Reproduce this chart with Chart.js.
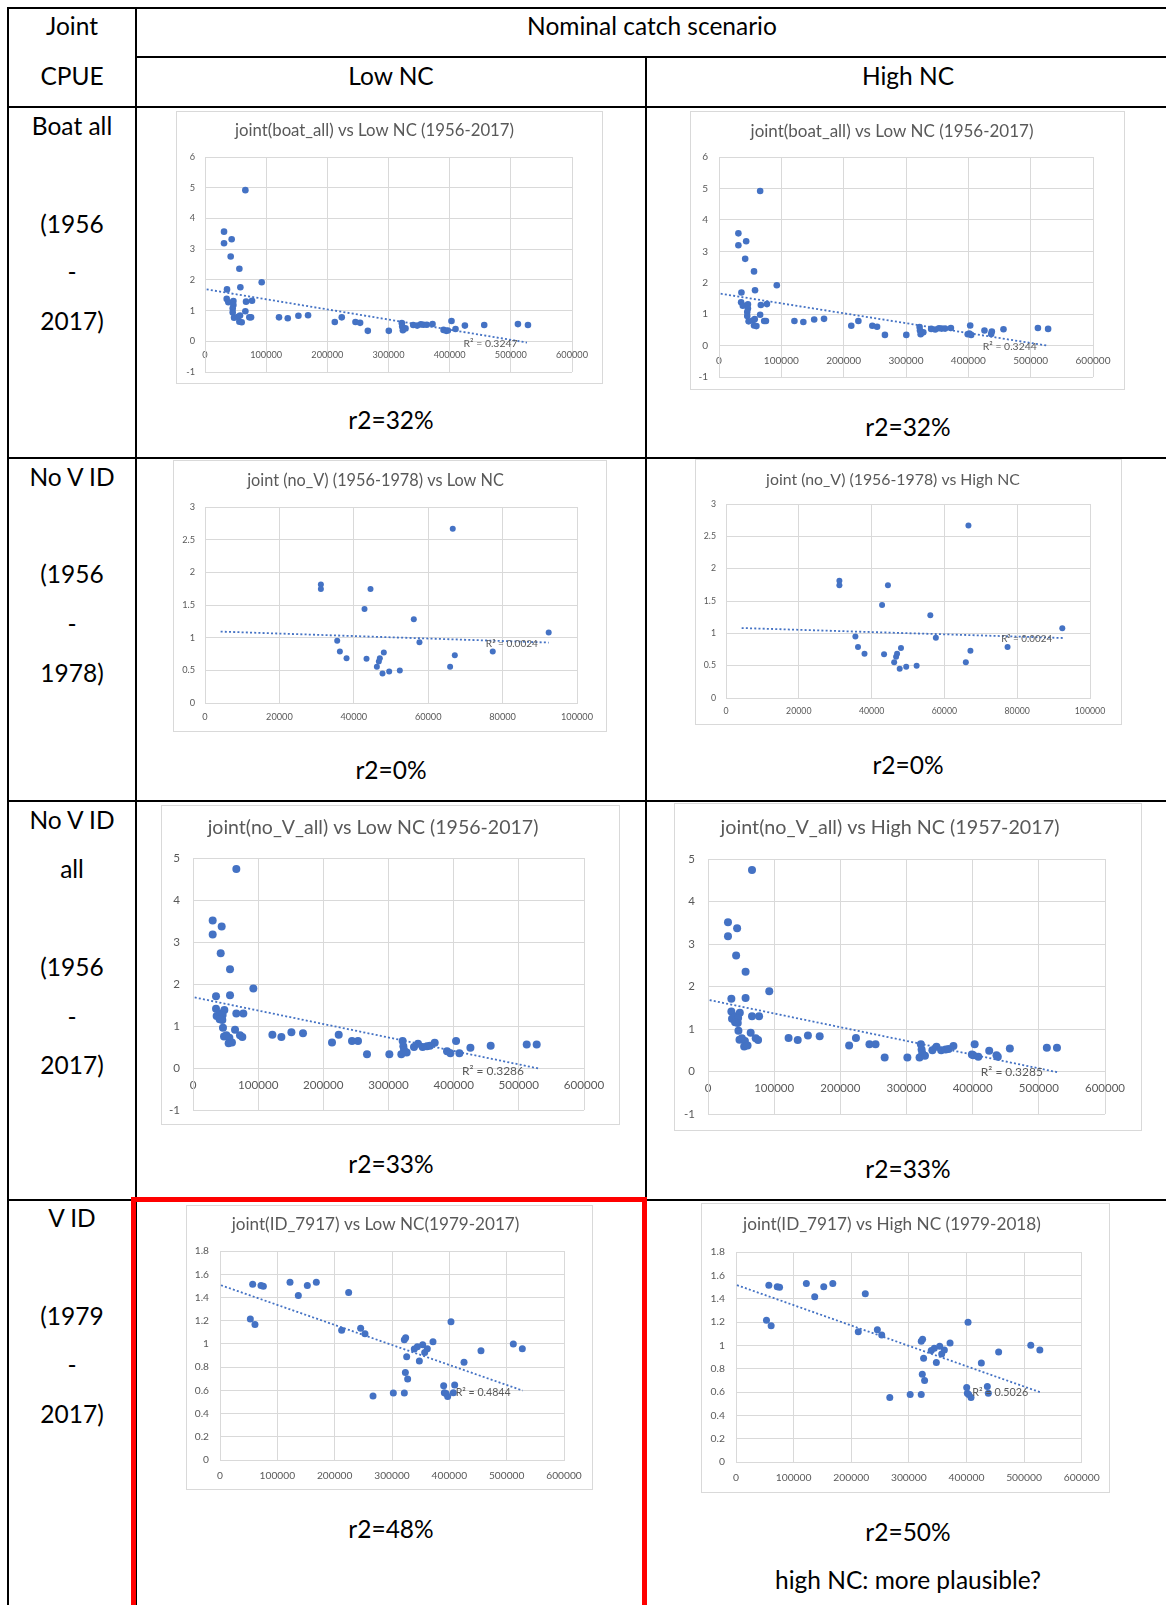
<!DOCTYPE html>
<html>
<head>
<meta charset="utf-8">
<script src="https://cdn.jsdelivr.net/npm/chart.js@4.4.0/dist/chart.umd.min.js"></script>
<style>
  body { margin: 0; width: 1166px; height: 1605px; overflow: hidden; background: #fff; position: relative; font-family: Lato, "Open Sans", sans-serif; }
  .ln { position: absolute; background: #000; }
  .t { position: absolute; transform: translate(-50%, -50%); white-space: nowrap; font-size: 24.5px; line-height: 1; color: #000; }
  .box { position: absolute; border: 1px solid #d9d9d9; box-sizing: border-box; background: #fff; }
  .box canvas { display: block; }
  #red { position: absolute; left: 131px; top: 1197px; width: 516px; height: 440px; border: 5px solid #ff0000; box-sizing: border-box; }
</style>
</head>
<body>
<div id="red"></div>
<script>
// ---- data ----
var boatLowX = [66000,31100,31100,43600,42000,56200,57800,36000,92700,35500,38200,46400,46400,45300,45300,47500,67100,76900,66000,54000,57300,56200,60000,72500,75300,121000,135300,152700,168500,212200,223600,246000,253600,266200,300500,321800,322400,323500,327800,340400,346900,352900,357300,362700,372000,390000,394400,397000,403000,409600,424900,456500,511600,528000];
var boatLowY = [4.92,3.57,3.19,3.32,2.76,2.36,1.76,1.69,1.92,1.38,1.27,1.31,1.18,1.07,0.94,0.77,1.29,1.32,0.98,0.80,0.84,0.64,0.62,0.78,0.78,0.78,0.75,0.83,0.85,0.63,0.78,0.63,0.60,0.34,0.34,0.59,0.48,0.36,0.42,0.53,0.51,0.55,0.54,0.54,0.56,0.37,0.34,0.35,0.66,0.40,0.51,0.53,0.56,0.53];
var boatHighX = [66000,31100,31100,43600,42000,56200,57800,36000,92700,35500,38200,46400,46400,45300,45300,47500,67100,76900,66000,54000,57300,56200,60000,72500,75300,121000,135300,152700,168500,212200,223600,246000,253600,266200,300500,321800,322400,323500,327800,340400,346900,352900,357300,362700,372000,399000,401500,404500,403000,436600,437700,425900,456400,511600,528000];
var boatHighY = [4.92,3.57,3.19,3.32,2.76,2.36,1.76,1.69,1.92,1.38,1.27,1.31,1.18,1.07,0.94,0.77,1.29,1.32,0.98,0.80,0.84,0.64,0.62,0.78,0.78,0.78,0.75,0.83,0.85,0.63,0.78,0.63,0.60,0.34,0.34,0.59,0.48,0.36,0.42,0.53,0.51,0.55,0.54,0.54,0.56,0.36,0.38,0.34,0.64,0.37,0.45,0.48,0.52,0.56,0.53];

var noVX = [31150,31150,35540,36260,38050,42880,43420,44490,46200,46730,47000,48070,47720,49510,52370,56130,57650,66600,65890,67150,77350,92390];
var noVY = [1.815,1.744,0.951,0.788,0.686,1.439,0.676,1.744,0.554,0.636,0.686,0.773,0.452,0.483,0.498,1.281,0.930,2.669,0.554,0.732,0.788,1.078];

var noVallLowX = [66500,30200,30200,44000,42500,56800,56800,35300,92600,35300,36300,41900,48100,45500,45000,40900,46000,47600,51200,64500,66500,77200,55800,54700,59800,72100,75700,121800,135600,151000,168800,213300,223600,244000,253200,267000,301300,321700,322800,323800,319700,327900,339100,345300,352400,359100,363700,370900,389800,395000,403700,408800,425700,456800,512100,527400];
var noVallLowY = [4.74,3.51,3.18,3.37,2.73,2.35,1.73,1.71,1.89,1.41,1.24,1.30,1.38,1.26,1.14,1.16,0.96,0.75,0.78,0.91,1.30,1.30,0.72,0.59,0.61,0.78,0.74,0.79,0.74,0.85,0.83,0.61,0.79,0.64,0.64,0.33,0.33,0.64,0.52,0.43,0.33,0.37,0.50,0.58,0.50,0.52,0.53,0.60,0.40,0.35,0.64,0.35,0.48,0.53,0.56,0.56];
var noVallHighX = [66500,30200,30200,44000,42500,56800,56800,35300,92600,35300,36300,41900,48100,45500,45000,40900,46000,47600,51200,64500,66500,77200,55800,54700,59800,72100,75700,121800,135600,151000,168800,213300,223600,244000,253200,267000,301300,321700,322800,323800,319700,327900,339100,345300,352400,359100,363700,370900,398800,401000,403000,408500,425000,436000,438000,456200,512100,527400];
var noVallHighY = [4.74,3.51,3.18,3.37,2.73,2.35,1.73,1.71,1.89,1.41,1.24,1.30,1.38,1.26,1.14,1.16,0.96,0.75,0.78,0.91,1.30,1.30,0.72,0.59,0.61,0.78,0.74,0.79,0.74,0.85,0.83,0.61,0.79,0.64,0.64,0.33,0.33,0.64,0.52,0.43,0.33,0.37,0.50,0.58,0.50,0.52,0.53,0.60,0.40,0.38,0.64,0.35,0.49,0.38,0.35,0.54,0.56,0.56];

var idLowX = [57000,52900,61000,71500,75600,122100,136600,152300,168000,212200,224400,245300,252900,266900,302300,321500,321500,323800,325600,323300,327300,338900,344200,347700,353500,357000,361600,371500,390100,391300,394200,397100,402900,409300,407000,425600,455200,511600,527300];
var idLowY = [1.514,1.214,1.168,1.502,1.497,1.531,1.417,1.502,1.531,1.117,1.443,1.134,1.088,0.552,0.578,0.578,1.036,1.053,0.890,0.753,0.698,0.956,0.976,0.853,0.993,0.925,0.959,1.019,0.639,0.579,0.573,0.547,1.191,0.647,0.579,0.842,0.940,1.000,0.959];
var idHighX = [57000,52900,61000,71500,75600,122100,136600,152300,168000,212200,224400,245300,252900,266900,302300,321500,321500,323800,325600,323300,327300,338900,344200,347700,353500,357000,361600,371500,400400,401500,403800,407900,402700,436200,437900,425800,455800,511600,527300];
var idHighY = [1.514,1.214,1.168,1.502,1.497,1.531,1.417,1.502,1.531,1.117,1.443,1.134,1.088,0.552,0.578,0.578,1.036,1.053,0.890,0.753,0.698,0.956,0.976,0.853,0.993,0.925,0.959,1.019,0.638,0.590,0.578,0.553,1.197,0.647,0.590,0.849,0.943,1.000,0.959];

// trendline end points (x, y) as drawn
var trendBoatLowX = [2700, 526400],  trendBoatLowY = [1.69, -0.04];
var trendBoatHighX = [2700, 526100], trendBoatHighY = [1.65, 0.0];
var trendNoVLowX = [4200, 92390],    trendNoVLowY = [1.093, 0.925];
var trendNoVHighX = [4300, 92490],   trendNoVHighY = [1.082, 0.928];
var trendNoVallLowX = [2600, 529700],  trendNoVallLowY = [1.68, -0.01];
var trendNoVallHighX = [2500, 529100], trendNoVallHighY = [1.68, -0.02];
var trendIdLowX = [1700, 527900],  trendIdLowY = [1.505, 0.598];
var trendIdHighX = [1700, 527900], trendIdHighY = [1.516, 0.598];

var ticksWide = [0, 100000, 200000, 300000, 400000, 500000, 600000];
var ticksNarrow = [0, 20000, 40000, 60000, 80000, 100000];

// ---- table frame ----
var hLines = [[7, 7, 1170], [56, 135, 1170], [106, 7, 1170], [457, 7, 1170], [800, 7, 1170], [1199, 7, 1170]];
var vLines = [[7, 7, 1605], [135, 7, 1605], [645, 56, 1605]];
var cellText = [
  ['Joint', 72, 26], ['CPUE', 72, 76], ['Nominal catch scenario', 652, 26], ['Low NC', 391, 76], ['High NC', 908, 76],
  ['Boat all', 72, 126], ['(1956', 72, 224], ['-', 72, 272], ['2017)', 72, 321],
  ['No V ID', 72, 477], ['(1956', 72, 574], ['-', 72, 624], ['1978)', 72, 673],
  ['No V ID', 72, 820], ['all', 72, 869], ['(1956', 72, 967], ['-', 72, 1017], ['2017)', 72, 1065],
  ['V ID', 72, 1218], ['(1979', 72, 1316], ['-', 72, 1365], ['2017)', 72, 1414],
  ['r2=32%', 391, 420], ['r2=32%', 908, 427],
  ['r2=0%', 391, 770], ['r2=0%', 908, 765],
  ['r2=33%', 391, 1164], ['r2=33%', 908, 1169],
  ['r2=48%', 391, 1529], ['r2=50%', 908, 1532], ['high NC: more plausible?', 908, 1580]
];

hLines.forEach(function (l) {
  var d = document.createElement('div');
  d.className = 'ln';
  d.style.cssText = 'top:' + l[0] + 'px;left:' + l[1] + 'px;width:' + (l[2] - l[1]) + 'px;height:2px';
  document.body.appendChild(d);
});
vLines.forEach(function (l) {
  var d = document.createElement('div');
  d.className = 'ln';
  d.style.cssText = 'left:' + l[0] + 'px;top:' + l[1] + 'px;height:' + (l[2] - l[1]) + 'px;width:2px';
  document.body.appendChild(d);
});
cellText.forEach(function (c) {
  var d = document.createElement('div');
  d.className = 't';
  d.textContent = c[0];
  d.style.left = c[1] + 'px';
  d.style.top = c[2] + 'px';
  document.body.appendChild(d);
});
// red frame goes over the black lines
document.body.appendChild(document.getElementById('red'));

// ---- charts ----
var charts = [
  { title: 'joint(boat_all) vs Low NC (1956-2017)', xs: boatLowX, ys: boatLowY, tx: trendBoatLowX, ty: trendBoatLowY,
    r2: 'R\u00b2 = 0.3247', r2x: 422700, r2y: -0.065, xt: ticksWide, yMin: -1, yMax: 6, yStep: 1,
    box: [176, 111, 427, 273], plot: [205, 157, 572, 372], tc: 131, titleW: 279, tickW: 32, r2W: 54, r: 3.3 },
  { title: 'joint (no_V) (1956-1978) vs Low NC', xs: noVX, ys: noVY, tx: trendNoVLowX, ty: trendNoVLowY,
    r2: 'R\u00b2 = 0.0024', r2x: 75500, r2y: 0.91, xt: ticksNarrow, yMin: 0, yMax: 3, yStep: 0.5,
    box: [173, 460, 434, 272], plot: [205, 507, 577, 703], tc: 481, titleW: 257, tickW: 32, r2W: 52, r: 3 },
  { title: 'joint(no_V_all) vs Low NC (1956-2017)', xs: noVallLowX, ys: noVallLowY, tx: trendNoVallLowX, ty: trendNoVallLowY,
    r2: 'R\u00b2 = 0.3286', r2x: 412800, r2y: -0.064, xt: ticksWide, yMin: -1, yMax: 5, yStep: 1,
    box: [161, 805, 459, 320], plot: [193, 858, 584, 1110], tc: 828, titleW: 331, tickW: 40.5, r2W: 62, r: 4 },
  { title: 'joint(ID_7917) vs Low NC(1979-2017)', xs: idLowX, ys: idLowY, tx: trendIdLowX, ty: trendIdLowY,
    r2: 'R\u00b2 = 0.4844', r2x: 411000, r2y: 0.584, xt: ticksWide, yMin: 0, yMax: 1.8, yStep: 0.2,
    box: [186, 1205, 407, 285], plot: [220, 1251, 564, 1460], tc: 1224, titleW: 288, tickW: 35.5, r2W: 55, r: 3.5 },
  { title: 'joint(boat_all) vs Low NC (1956-2017)', xs: boatHighX, ys: boatHighY, tx: trendBoatHighX, ty: trendBoatHighY,
    r2: 'R\u00b2 = 0.3244', r2x: 423200, r2y: -0.02, xt: ticksWide, yMin: -1, yMax: 6, yStep: 1,
    box: [690, 111, 435, 279], plot: [719, 157, 1093, 377], tc: 132, titleW: 283, tickW: 35, r2W: 54, r: 3.3 },
  { title: 'joint (no_V) (1956-1978) vs High NC', xs: noVX, ys: noVY, tx: trendNoVHighX, ty: trendNoVHighY,
    r2: 'R\u00b2 = 0.0024', r2x: 75600, r2y: 0.91, xt: ticksNarrow, yMin: 0, yMax: 3, yStep: 0.5,
    box: [695, 459, 427, 266], plot: [726, 504, 1090, 698], tc: 480, titleW: 254, tickW: 30.5, r2W: 51, r: 3 },
  { title: 'joint(no_V_all) vs High NC (1957-2017)', xs: noVallHighX, ys: noVallHighY, tx: trendNoVallHighX, ty: trendNoVallHighY,
    r2: 'R\u00b2 = 0.3285', r2x: 412400, r2y: -0.02, xt: ticksWide, yMin: -1, yMax: 5, yStep: 1,
    box: [674, 803, 468, 328], plot: [708, 859, 1105, 1114], tc: 828, titleW: 339, tickW: 40, r2W: 62, r: 4 },
  { title: 'joint(ID_7917) vs High NC (1979-2018)', xs: idHighX, ys: idHighY, tx: trendIdHighX, ty: trendIdHighY,
    r2: 'R\u00b2 = 0.5026', r2x: 410200, r2y: 0.595, xt: ticksWide, yMin: 0, yMax: 1.8, yStep: 0.2,
    box: [701, 1203, 409, 290], plot: [736, 1252, 1082, 1462], tc: 1224, titleW: 298, tickW: 36, r2W: 56, r: 3.5 }
];

var FONT = 'Lato';
var mctx = document.createElement('canvas').getContext('2d');
function fitSize(text, w) {
  mctx.font = '100px ' + FONT;
  return 100 * w / mctx.measureText(text).width;
}

// R² text placed with the chart's own scales
var r2Label = {
  id: 'r2Label',
  afterDatasetsDraw: function (chart, args, opts) {
    var ctx = chart.ctx;
    ctx.save();
    ctx.font = opts.size + 'px ' + FONT;
    ctx.fillStyle = '#595959';
    ctx.textBaseline = 'middle';
    ctx.textAlign = 'left';
    ctx.fillText(opts.text, chart.scales.x.getPixelForValue(opts.x), chart.scales.y.getPixelForValue(opts.y));
    ctx.restore();
  }
};

function fmt(v) { return String(Math.round(v * 10) / 10); }

charts.forEach(function (c) {
  var div = document.createElement('div');
  div.className = 'box';
  div.style.left = c.box[0] + 'px';
  div.style.top = c.box[1] + 'px';
  div.style.width = c.box[2] + 'px';
  div.style.height = c.box[3] + 'px';
  var cv = document.createElement('canvas');
  cv.width = c.box[2] - 2;
  cv.height = c.box[3] - 2;
  cv.style.width = cv.width + 'px';
  cv.style.height = cv.height + 'px';
  div.appendChild(cv);
  document.body.appendChild(div);

  var ox = c.box[0] + 1, oy = c.box[1] + 1;
  var left = c.plot[0] - ox, top = c.plot[1] - oy;
  var right = cv.width - (c.plot[2] - ox), bottom = cv.height - (c.plot[3] - oy);
  var ts = fitSize(c.title, c.titleW);
  var ks = fitSize(String(c.xt[c.xt.length - 1]), c.tickW);
  var rs = fitSize(c.r2, c.r2W);
  var tcy = c.tc - oy;
  var tlh = ts * 1.2;

  var pts = c.xs.map(function (x, i) { return { x: x, y: c.ys[i] }; });
  var trend = c.tx.map(function (x, i) { return { x: x, y: c.ty[i] }; });

  new Chart(cv, {
    type: 'scatter',
    data: {
      datasets: [{
        type: 'line',
        data: trend,
        borderColor: '#4472C4',
        borderWidth: 1.8,
        borderDash: [2, 2.2],
        pointRadius: 0,
        fill: false
      }, {
        data: pts,
        pointRadius: c.r,
        pointHoverRadius: c.r,
        backgroundColor: '#4472C4',
        borderWidth: 0
      }]
    },
    options: {
      responsive: false,
      animation: false,
      layout: { padding: { left: 0, top: 0, right: right, bottom: bottom } },
      plugins: {
        legend: { display: false },
        tooltip: { enabled: false },
        title: {
          display: true,
          text: c.title,
          color: '#595959',
          font: { family: FONT, size: ts, weight: 'normal', lineHeight: 1.2 },
          padding: { top: tcy - tlh / 2, bottom: top - tcy - tlh / 2 }
        },
        r2Label: { text: c.r2, x: c.r2x, y: c.r2y, size: rs }
      },
      scales: {
        x: {
          type: 'linear',
          min: c.xt[0],
          max: c.xt[c.xt.length - 1],
          position: { y: 0 },
          afterBuildTicks: function (s) { s.ticks = c.xt.map(function (v) { return { value: v }; }); },
          afterFit: function (s) { s.height = 0; },
          ticks: {
            color: '#595959',
            font: { family: FONT, size: ks },
            padding: ks * 0.9,
            maxRotation: 0,
            autoSkip: false,
            callback: function (v) { return String(v); }
          },
          grid: { color: '#d9d9d9', drawTicks: false },
          border: { color: '#d9d9d9' }
        },
        y: {
          min: c.yMin,
          max: c.yMax,
          // fixed axis width; drop the label overhang so the plot keeps its measured height
          afterFit: function (s) { s.width = left; s.paddingTop = 0; s.paddingBottom = 0; },
          ticks: {
            stepSize: c.yStep,
            color: '#595959',
            font: { family: FONT, size: ks },
            padding: Math.round(ks * 1.1),
            callback: fmt
          },
          grid: { color: '#d9d9d9', drawTicks: false },
          border: { color: '#d9d9d9' }
        }
      }
    },
    plugins: [r2Label]
  });
});
</script>
</body>
</html>
